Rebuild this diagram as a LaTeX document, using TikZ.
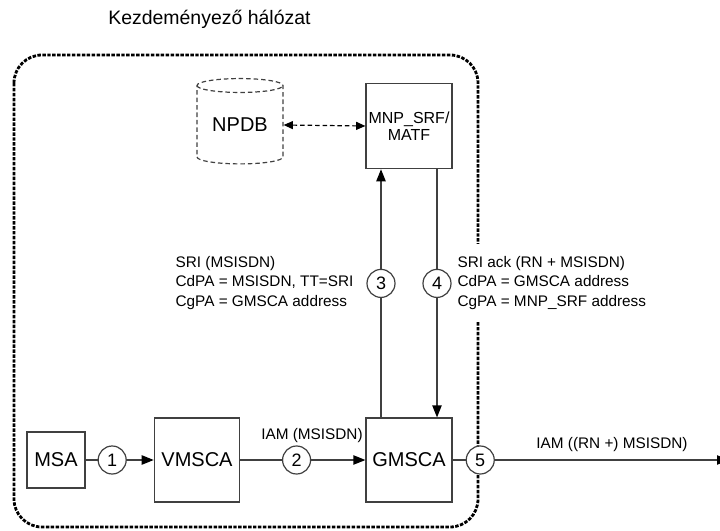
\documentclass[tikz,border=0pt]{standalone}
\usepackage{fontspec}
\setmainfont{Liberation Sans}
\usetikzlibrary{shapes.geometric,arrows.meta}

\begin{document}
\begin{tikzpicture}[x=0.75pt,y=-0.75pt,
    box/.style={draw=black!75, line width=0.9pt, inner sep=0pt, font=\fontsize{15}{17}\selectfont},
    num/.style={circle, draw=black!75, fill=white, line width=0.9pt, minimum size=21pt, inner sep=0pt, font=\fontsize{13.5}{15}\selectfont},
    msg/.style={font=\fontsize{11.5}{14.6}\selectfont, align=left, inner sep=1pt},
    link/.style={draw=black!75, line width=0.9pt},
    tip/.style={-{Triangle[length=9pt,width=7pt,black]}}]
      \useasboundingbox (0,0) rectangle (720,531);
      % originating network
      \draw[line width=2.1pt, dash pattern=on 2.6pt off 1.1pt, rounded corners=21pt] (14,55) rectangle (478,527);
      \node[anchor=west, inner sep=0pt, font=\fontsize{14.6}{16}\selectfont] (title) at (108,19) {Kezdeményező hálózat};
      % nodes
      \node[cylinder, shape border rotate=90, aspect=0.25, draw=black!75, line width=0.9pt, dash pattern=on 3.4pt off 2.2pt,
            minimum width=64.5pt, minimum height=64pt, inner sep=0pt, font=\fontsize{15}{17}\selectfont] (npdb) at (240,125) {NPDB};
      \node[box, minimum width=64.5pt, minimum height=64pt, align=center, font=\fontsize{12}{12.75}\selectfont] (mnp) at (409,126) {MNP\_SRF/\\MATF};
      \node[box, minimum width=43.5pt, minimum height=42pt] (msa) at (56,460) {MSA};
      \node[box, minimum width=64pt, minimum height=63pt] (vmsca) at (197,460) {VMSCA};
      \node[box, minimum width=64.5pt, minimum height=63pt] (gmsca) at (409,460) {GMSCA};
      \coordinate (out) at (729,460);
      % connectors
      \draw[line width=0.9pt, dash pattern=on 3.4pt off 2.2pt, {Triangle[length=7pt,width=6pt]}-{Triangle[length=7pt,width=6pt]}] (npdb.east) -- (mnp.west);
      \draw[link, tip] ([xshift=-21pt]gmsca.north) -- ([xshift=-21pt]mnp.south) node[num, pos=0.54] (n3) {3};
      \draw[link, tip] ([xshift=21pt]mnp.south) -- ([xshift=21pt]gmsca.north) node[num, pos=0.46] (n4) {4};
      \draw[link, tip] (msa) -- (vmsca) node[num, pos=0.39] (n1) {1};
      \draw[link, tip] (vmsca) -- (gmsca) node[num, pos=0.45] (n2) {2};
      \draw[link, tip] (gmsca) -- (out) node[num, pos=0.10] (n5) {5};
      % messages
      \node[msg, anchor=west] (sri) at (174,283) {SRI (MSISDN)\\CdPA = MSISDN, TT=SRI\\CgPA = GMSCA address};
      \node[msg, anchor=west, fill=white, inner ysep=9pt] (sriack) at (456,283) {SRI ack (RN + MSISDN)\\CdPA = GMSCA address\\CgPA = MNP\_SRF address};
      \node[msg] (iam) at (312,436) {IAM (MSISDN)};
      \node[msg] (iamout) at (612,445) {IAM ((RN +) MSISDN)};
    \end{tikzpicture}
\end{document}
